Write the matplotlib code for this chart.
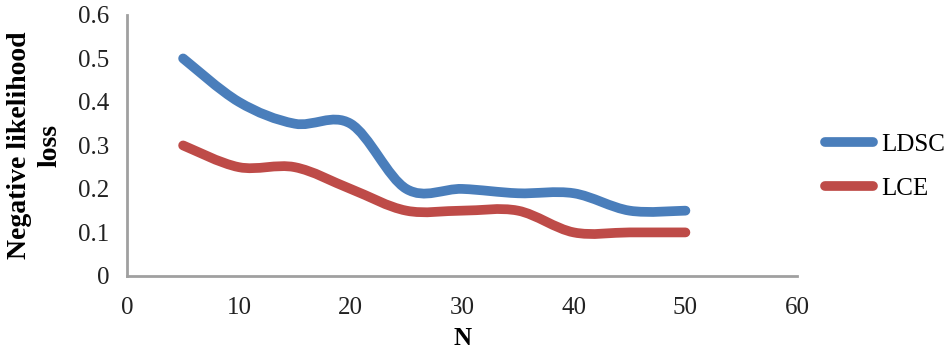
import matplotlib
matplotlib.use('Agg')
import matplotlib.pyplot as plt
from matplotlib.path import Path
from matplotlib.patches import PathPatch
from matplotlib.lines import Line2D

plt.rcParams['font.family'] = ['Liberation Serif', 'DejaVu Serif']

n_values = [5, 10, 15, 20, 25, 30, 35, 40, 45, 50]
ldsc = [0.5, 0.4, 0.35, 0.35, 0.2, 0.2, 0.19, 0.19, 0.15, 0.15]
lce = [0.3, 0.25, 0.25, 0.2, 0.15, 0.15, 0.15, 0.1, 0.1, 0.1]
series_names = ['LDSC', 'LCE']
colors = ['#4A7EBB', '#BE4B48']
x_ticks = [0, 10, 20, 30, 40, 50, 60]
y_ticks = [0, 0.1, 0.2, 0.3, 0.4, 0.5, 0.6]


def smooth_path(xs, ys):
    # Excel-like smoothed line: cubic Bezier segments with Catmull-Rom control points
    pts = list(zip(xs, ys))
    verts = [pts[0]]
    codes = [Path.MOVETO]
    for i in range(len(pts) - 1):
        p0 = pts[i - 1] if i > 0 else pts[i]
        p1 = pts[i]
        p2 = pts[i + 1]
        p3 = pts[i + 2] if i + 2 < len(pts) else pts[i + 1]
        c1 = (p1[0] + (p2[0] - p0[0]) / 6, p1[1] + (p2[1] - p0[1]) / 6)
        c2 = (p2[0] - (p3[0] - p1[0]) / 6, p2[1] - (p3[1] - p1[1]) / 6)
        verts += [c1, c2, p2]
        codes += [Path.CURVE4] * 3
    return Path(verts, codes)


fig = plt.figure(figsize=(9.5, 3.56), dpi=100)
ax = fig.add_axes([0.134, 0.225, 0.705, 0.733])

for ys, c in zip([ldsc, lce], colors):
    patch = PathPatch(smooth_path(n_values, ys), facecolor='none', edgecolor=c,
                      lw=7, capstyle='round', joinstyle='round')
    ax.add_patch(patch)

ax.set_xlim(0, 60)
ax.set_ylim(0, 0.6)
ax.set_xticks(x_ticks)
ax.set_yticks(y_ticks)
ax.set_yticklabels(['0' if v == 0 else f'{v:.1f}' for v in y_ticks])
ax.tick_params(length=0, labelsize=18, colors='#222222')
ax.tick_params(axis='y', pad=13)
ax.tick_params(axis='x', pad=15)
for s in ['top', 'right']:
    ax.spines[s].set_visible(False)
for s in ['left', 'bottom']:
    ax.spines[s].set_color('#A0A0A0')
    ax.spines[s].set_linewidth(2)

ax.set_xlabel('N', fontsize=18, fontweight='bold', labelpad=6)
ax.set_ylabel('Negative likelihood\nloss', fontsize=20, fontweight='bold',
              labelpad=11, linespacing=1.3)

handles = [Line2D([], [], color=c, lw=7, solid_capstyle='round') for c in colors]
fig.legend(handles, series_names, loc='center left', bbox_to_anchor=(0.868, 0.532),
           frameon=False, fontsize=18, handlelength=1.95, handletextpad=0.32,
           labelspacing=0.88, borderpad=0, borderaxespad=0)

fig.savefig('out.png', dpi=100)
